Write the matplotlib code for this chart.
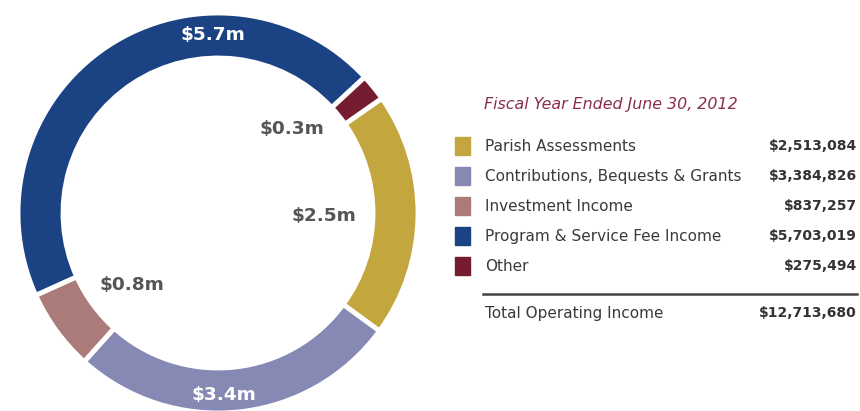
import numpy as np
import matplotlib.pyplot as plt

plt.rcParams['font.family'] = ['DejaVu Sans']

# данні
categories = ['Parish Assessments', 'Contributions, Bequests & Grants',
              'Investment Income', 'Program & Service Fee Income', 'Other']
values = [2513084, 3384826, 837257, 5703019, 275494]
value_labels = ['$2,513,084', '$3,384,826', '$837,257', '$5,703,019', '$275,494']
ring_labels = ['$2.5m', '$3.4m', '$0.8m', '$5.7m', '$0.3m']
colors = ['#C4A63F', '#8689B4', '#AB7B79', '#1B4283', '#751C31']
total_label = 'Total Operating Income'
total_value = '$12,713,680'
title = 'Fiscal Year Ended June 30, 2012'

fig = plt.figure(figsize=(8.6, 4.11), dpi=100)

# кільцева діаграма
ax = fig.add_axes([18 / 860, -2 / 411, 400 / 860, 400 / 411])
wedges, _ = ax.pie(values, colors=colors, startangle=35, counterclock=False,
                   wedgeprops=dict(width=0.225, edgecolor='white', linewidth=3.5))
ax.set_xlim(-1, 1)
ax.set_ylim(-1, 1)

# підписи: білі в кільці, сірі всередині
label_r = [0.53, 0.91, 0.56, 0.89, 0.56]
label_shift = [-1, -4, 4, -32, 10]
label_col = ['#555555', 'white', '#555555', 'white', '#555555']
for w, txt, r, sh, c in zip(wedges, ring_labels, label_r, label_shift, label_col):
    ang = np.deg2rad((w.theta1 + w.theta2) / 2 + sh)
    ax.text(r * np.cos(ang), r * np.sin(ang), txt, ha='center', va='center',
            fontsize=13.3, fontweight='bold', color=c)

# таблиця-легенда праворуч
lx = fig.add_axes([0, 0, 1, 1])
lx.set_xlim(0, 860)
lx.set_ylim(411, 0)
lx.axis('off')
lx.patch.set_alpha(0)

fs = 11
fv = 10
lx.text(484, 104, title, fontsize=11.4, style='italic', color='#8A2E4C', va='center')
for i, (cat, val, col) in enumerate(zip(categories, value_labels, colors)):
    y = 146 + i * 30
    lx.add_patch(plt.Rectangle((455, y - 9), 15, 18, color=col))
    lx.text(485, y, cat, fontsize=fs, color='#3A3A3A', va='center')
    lx.text(857, y, val, fontsize=fv, color='#333333', va='center', ha='right',
            fontweight='bold')

lx.plot([483, 857], [294, 294], color='#444444', lw=1.8)
lx.text(485, 313, total_label, fontsize=fs, color='#3A3A3A', va='center')
lx.text(857, 313, total_value, fontsize=fv, color='#333333', va='center', ha='right',
        fontweight='bold')

plt.savefig('out.png', dpi=100)
